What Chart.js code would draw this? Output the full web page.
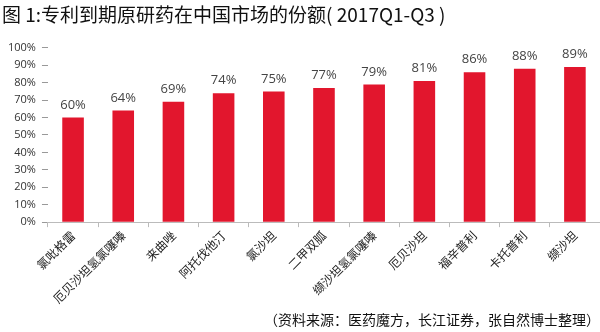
<!DOCTYPE html>
<html>
<head>
<meta charset="utf-8">
<script src="https://cdn.jsdelivr.net/npm/chart.js@4"></script>
<style>
  html, body { margin: 0; padding: 0; background: #fff; }
  #wrap { width: 600px; height: 332px; }
</style>
</head>
<body>
<div id="wrap"><canvas id="shareChart"></canvas></div>
<script>
const drugs = ['氯吡格雷', '厄贝沙坦氢氯噻嗪', '来曲唑', '阿托伐他汀', '氯沙坦', '二甲双胍',
  '缬沙坦氢氯噻嗪', '厄贝沙坦', '福辛普利', '卡托普利', '缬沙坦'];
const shares = [60, 64, 69, 74, 75, 77, 79, 81, 86, 88, 89];
const yTicks = [0, 10, 20, 30, 40, 50, 60, 70, 80, 90, 100];

const titleText = '图 1:专利到期原研药在中国市场的份额( 2017Q1-Q3 )';
const sourceText = '（资料来源：医药魔方，长江证券，张自然博士整理）';

// etiquetas de valor encima de cada barra
const valueLabels = {
  id: 'valueLabels',
  afterDatasetsDraw(chart) {
    const ctx = chart.ctx;
    const meta = chart.getDatasetMeta(0);
    ctx.save();
    ctx.font = '13px "Open Sans", sans-serif';
    ctx.fillStyle = '#444';
    ctx.textAlign = 'center';
    ctx.textBaseline = 'bottom';
    meta.data.forEach((bar, i) => {
      ctx.fillText(shares[i] + '%', bar.x, bar.y - 6);
    });
    ctx.restore();
  }
};

const ctx = document.getElementById('shareChart').getContext('2d');
const shareChart = new Chart(ctx, {
  type: 'bar',
  data: {
    labels: drugs,
    datasets: [{
      data: shares,
      backgroundColor: '#e2162d',
      barPercentage: 0.86,
      categoryPercentage: 0.5
    }]
  },
  options: {
    responsive: true,
    maintainAspectRatio: false,
    animation: false,
    layout: { padding: { left: 2, right: 0, top: 0, bottom: 4 } },
    plugins: {
      legend: { display: false },
      tooltip: { enabled: false },
      title: {
        display: true,
        text: titleText,
        align: 'start',
        color: '#111',
        font: { size: 19, family: '"Noto Sans CJK SC", sans-serif', weight: 'normal' },
        padding: { top: 3, bottom: 22 }
      },
      subtitle: {
        display: true,
        position: 'bottom',
        text: sourceText,
        align: 'end',
        color: '#111',
        font: { size: 14, family: '"Noto Sans CJK SC", sans-serif', weight: 'normal' },
        padding: { top: 4, bottom: 0 }
      }
    },
    scales: {
      x: {
        grid: { display: true, drawOnChartArea: false, offset: true, tickLength: 5, color: '#bbb' },
        border: { display: true, color: '#bbb' },
        ticks: {
          color: '#222',
          maxRotation: 45,
          minRotation: 45,
          autoSkip: false,
          padding: 1,
          font: { size: 12, family: '"Noto Sans CJK SC", serif' }
        }
      },
      y: {
        min: 0,
        max: 100,
        afterBuildTicks(axis) {
          axis.ticks = yTicks.map(v => ({ value: v }));
        },
        grid: { display: true, drawOnChartArea: false, tickLength: 6, color: '#999' },
        border: { display: false },
        ticks: {
          color: '#333',
          padding: 6,
          font: { size: 11, family: '"Open Sans", sans-serif' },
          callback: v => v + '%'
        }
      }
    }
  },
  plugins: [valueLabels]
});
</script>
</body>
</html>
